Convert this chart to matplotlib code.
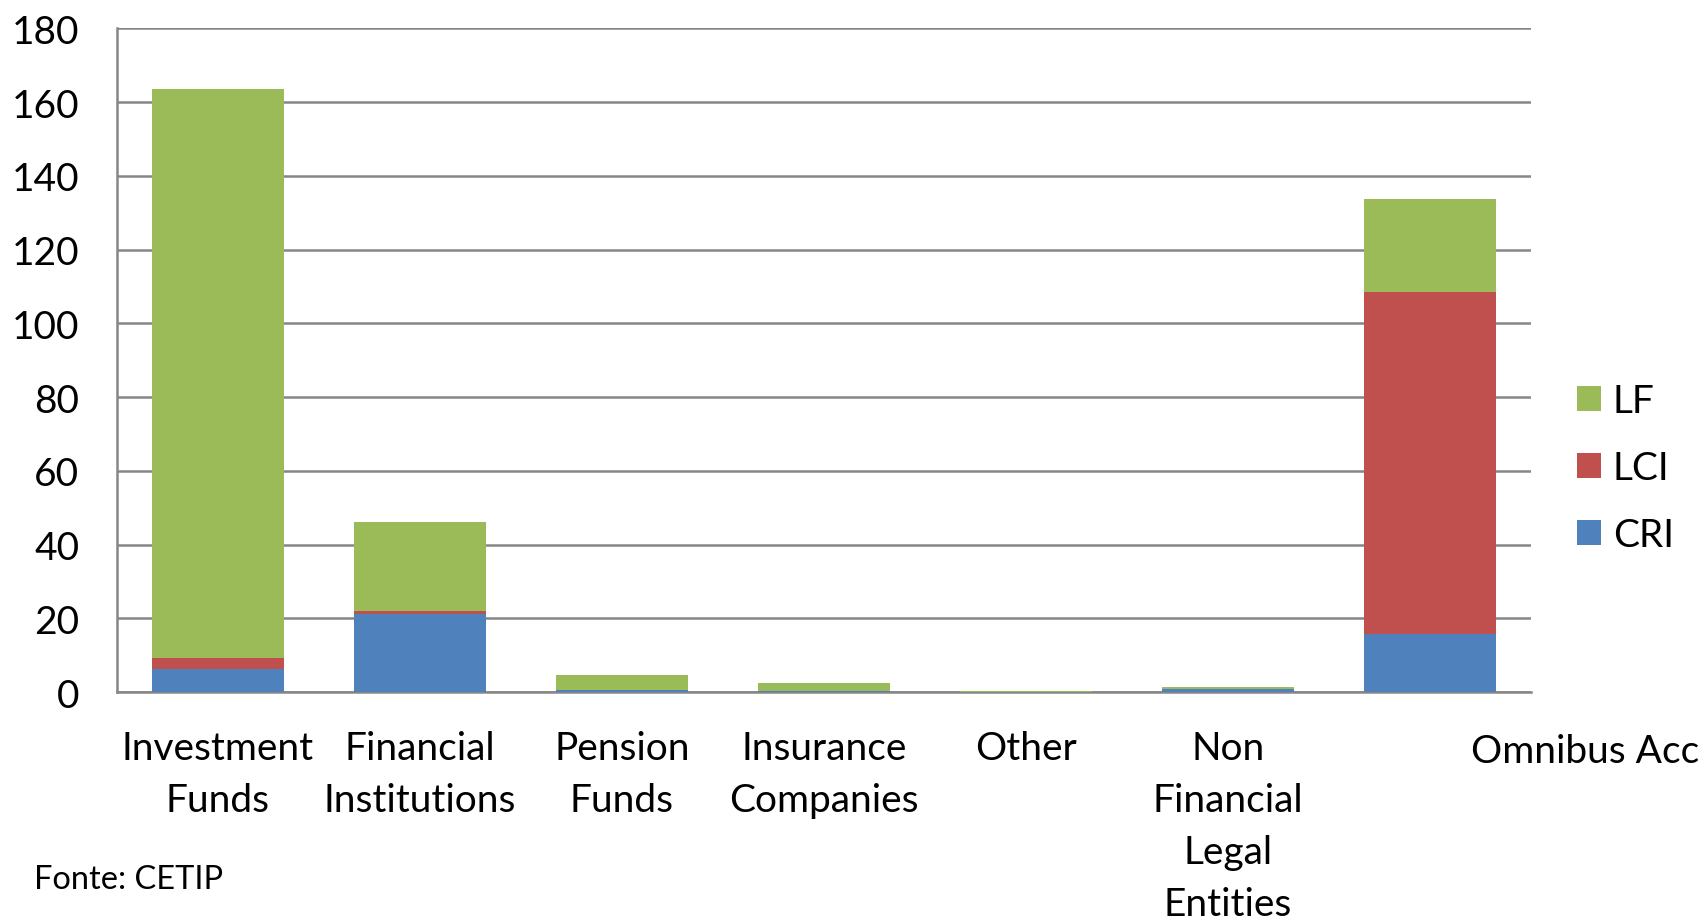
import numpy as np
import matplotlib
matplotlib.use("Agg")
from matplotlib import pyplot as plt

plt.rcParams['font.family'] = ['Lato', 'DejaVu Sans']

categories = ["Investment\nFunds", "Financial\nInstitutions", "Pension\nFunds",
              "Insurance\nCompanies", "Other", "Non\nFinancial\nLegal\nEntities",
              "Omnibus Accounts"]
cri = [6.3, 21.2, 0.5, 0.2, 0.1, 0.9, 15.7]
lci = [2.8, 0.8, 0.0, 0.0, 0.0, 0.0, 92.7]
lf = [154.5, 24.0, 4.0, 2.2, 0.05, 0.45, 25.3]
yticks = [0, 20, 40, 60, 80, 100, 120, 140, 160, 180]

green = "#9BBB59"
red = "#C0504D"
blue = "#4F81BD"
grid_c = "#868686"

fig = plt.figure(figsize=(17, 9.2), dpi=100)
ax = fig.add_axes([0.0688, 0.2467, 0.9006 - 0.0688, 0.968 - 0.2467])

x = np.arange(len(categories))
w = 0.65
cri = np.array(cri)
lci = np.array(lci)
lf = np.array(lf)
b1 = ax.bar(x, cri, w, color=blue, label="CRI", zorder=3)
b2 = ax.bar(x, lci, w, bottom=cri, color=red, label="LCI", zorder=3)
b3 = ax.bar(x, lf, w, bottom=cri + lci, color=green, label="LF", zorder=3)

ax.set_xlim(-0.5, len(categories) - 0.5)
ax.set_ylim(0, 180)
ax.set_yticks(yticks)
ax.yaxis.grid(True, color=grid_c, linewidth=1.8, zorder=0)
ax.set_axisbelow(True)
for s in ["top", "right"]:
    ax.spines[s].set_visible(False)
for s in ["left", "bottom"]:
    ax.spines[s].set_color(grid_c)
    ax.spines[s].set_linewidth(1.8)
ax.tick_params(axis="y", length=0, pad=27, labelsize=28)
ax.tick_params(axis="x", length=0, pad=27, labelsize=28)

ax.set_xticks(x[:-1])
ax.set_xticklabels(categories[:-1], linespacing=1.56)
# long last label spills over to the right like in the original
ax.text(6.203, -0.062, categories[-1], transform=ax.get_xaxis_transform(),
        ha="left", va="top", fontsize=28, clip_on=False)

handles = [b3, b2, b1]
fig.legend(handles, [h.get_label() for h in handles], loc="center left",
           bbox_to_anchor=(0.907, 0.49), frameon=False, fontsize=28,
           handlelength=0.62, handleheight=0.62, handletextpad=0.3,
           labelspacing=0.8)

fig.text(0.02, 0.043, "Fonte: CETIP", fontsize=23.5, ha="left", va="center")

plt.savefig("out.png", dpi=100)
